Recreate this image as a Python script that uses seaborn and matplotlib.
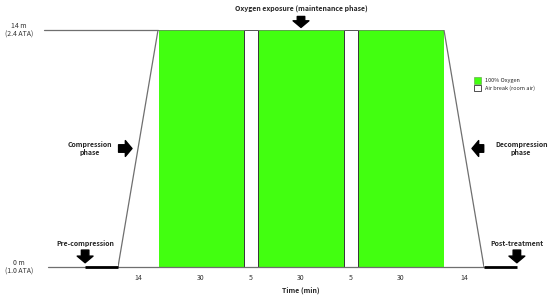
import numpy as np
import matplotlib
matplotlib.use("Agg")
import matplotlib.pyplot as plt
from matplotlib.patches import Patch
import seaborn as sns

# protocol segments (minutes)
segments = ["Compression", "Oxygen", "Air break", "Oxygen", "Air break", "Oxygen", "Decompression"]
durations = [14, 30, 5, 30, 5, 30, 14]
tick_labels = ["14", "30", "5", "30", "5", "30", "14"]
max_depth = 14          # m
depth_labels = ["0 m\n(1.0 ATA)", "14 m\n(2.4 ATA)"]
pre_post = 11.5         # schematic length of pre/post segments

sns.set_theme(style="white")
plt.rcParams["font.family"] = ["Noto Sans CJK KR", "DejaVu Sans"]

starts = np.concatenate([[0], np.cumsum(durations)[:-1]])
ends = np.cumsum(durations)
centers = starts + np.array(durations) / 2
total = ends[-1]

fig = plt.figure(figsize=(5.5, 2.97), dpi=100)
ax = fig.add_axes([118 / 550, 30 / 297, 366 / 550, 237 / 297])
ax.set_xlim(0, total)
ax.set_ylim(0, max_depth)

GREEN = "#42ff10"
LINE = "#6f6f6f"

# reference lines (surface and treatment depth)
ax.plot([-26, starts[1]], [max_depth, max_depth], color=LINE, lw=0.9, clip_on=False)
ax.plot([-24.5, total], [0, 0], color=LINE, lw=0.9, clip_on=False)

# oxygen / air-break blocks
for seg, s, d in zip(segments, starts, durations):
    if seg == "Oxygen":
        ax.bar(s + 0.2, max_depth, width=d - 0.2, align="edge", color=GREEN, lw=0)
    elif seg == "Air break":
        ax.bar(s, max_depth, width=d, align="edge", color="white", edgecolor="#333333", lw=0.7)

# compression / decompression ramps
ramp_t = [starts[0], ends[0], np.nan, starts[-1], ends[-1]]
ramp_d = [0, max_depth, np.nan, max_depth, 0]
sns.lineplot(x=ramp_t, y=ramp_d, ax=ax, color=LINE, lw=0.9, sort=False, estimator=None)

# pre-compression and post-treatment periods
ax.plot([-pre_post, 0], [0, 0], color="black", lw=2, clip_on=False, solid_capstyle="butt")
ax.plot([total, total + pre_post], [0, 0], color="black", lw=2, clip_on=False, solid_capstyle="butt")

arrow = dict(arrowstyle="simple,head_width=0.95,head_length=0.4,tail_width=0.45",
             fc="black", ec="black", shrinkA=0, shrinkB=0)

def block_arrow(tip, tail):
    ax.annotate("", xy=tip, xytext=tail, xycoords="data", arrowprops=arrow, annotation_clip=False)

fs = 5.0
mid_oxy = (ends[0] + starts[-1]) / 2
ax.text(mid_oxy, 15.3, "Oxygen exposure (maintenance phase)", ha="center", va="center",
        fontsize=fs, fontweight="bold")
block_arrow((mid_oxy, 14.15), (mid_oxy, 14.8))

ax.text(-9.8, 7.0, "Compression\nphase", ha="center", va="center", fontsize=fs,
        fontweight="bold", linespacing=1.2)
block_arrow((4.9, 7.0), (0.2, 7.0))

ax.text(total + 13.0, 7.0, "Decompression\nphase", ha="center", va="center", fontsize=fs,
        fontweight="bold", linespacing=1.2)
block_arrow((total - 4.2, 7.0), (total - 0.1, 7.0))

ax.text(-pre_post, 1.4, "Pre-compression", ha="center", va="center", fontsize=fs, fontweight="bold")
block_arrow((-pre_post, 0.25), (-pre_post, 1.0))

ax.text(total + pre_post, 1.4, "Post-treatment", ha="center", va="center", fontsize=fs, fontweight="bold")
block_arrow((total + pre_post, 0.25), (total + pre_post, 1.0))

# depth labels
for d, lab in zip([0, max_depth], depth_labels):
    ax.text(-34.6, d, lab, ha="center", va="center", fontsize=5, color="#333333", linespacing=1.1)

# time axis
ax.set_xticks(centers)
ax.set_xticklabels(tick_labels, fontsize=5, color="#333333")
ax.tick_params(axis="x", length=0, pad=5)
ax.set_yticks([])
ax.set_xlabel("Time (min)", fontsize=fs, fontweight="bold", labelpad=3)
sns.despine(ax=ax, left=True, bottom=True)

handles = [Patch(facecolor=GREEN, edgecolor="#5a9a40", lw=0.4, label="100% Oxygen"),
           Patch(facecolor="white", edgecolor="#333333", lw=0.6, label="Air break (room air)")]
fig.legend(handles=handles, loc="upper left", bbox_to_anchor=(472 / 550, 1 - 75 / 297),
           frameon=False, fontsize=4, handlelength=1.2, handleheight=1.4,
           handletextpad=0.8, labelspacing=0.25, borderaxespad=0)

fig.savefig("out.png", dpi=100)
